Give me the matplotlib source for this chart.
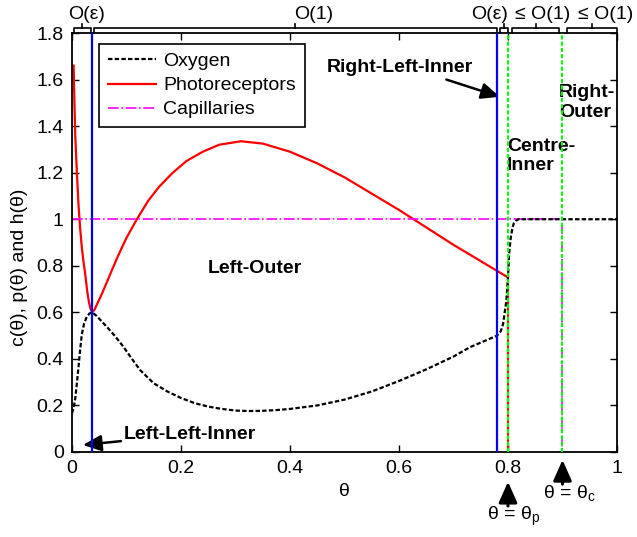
import numpy as np
import matplotlib
matplotlib.use('Agg')
import matplotlib.pyplot as plt
from matplotlib.ticker import FuncFormatter
import matplotlib.transforms as mtransforms

plt.rcParams['font.family'] = ['Liberation Sans', 'DejaVu Sans']
plt.rcParams['font.size'] = 14

# oxygen c(theta)
theta_c = [0, 0.003, 0.006, 0.009, 0.012, 0.015, 0.018, 0.022, 0.027, 0.032, 0.037,
           0.045, 0.055, 0.065, 0.08, 0.095, 0.11, 0.125, 0.15, 0.175, 0.2, 0.225,
           0.25, 0.275, 0.3, 0.325, 0.35, 0.375, 0.4, 0.45, 0.5, 0.55, 0.6, 0.65,
           0.7, 0.73, 0.76, 0.78, 0.787, 0.791, 0.794, 0.797, 0.8, 0.802, 0.805,
           0.808, 0.811, 0.815, 0.82, 0.9, 1.0]
c_vals = [0.166, 0.19, 0.23, 0.295, 0.366, 0.44, 0.505, 0.55, 0.58, 0.595, 0.60,
          0.585, 0.56, 0.535, 0.495, 0.45, 0.40, 0.352, 0.295, 0.26, 0.232, 0.21,
          0.195, 0.185, 0.178, 0.176, 0.177, 0.18, 0.185, 0.2, 0.225, 0.26, 0.305, 0.355,
          0.41, 0.45, 0.48, 0.5, 0.52, 0.55, 0.6, 0.65, 0.75, 0.85, 0.92,
          0.96, 0.985, 0.995, 1.0, 1.0, 1.0]

# photoreceptors p(theta), zero beyond theta_p (lies on the axis)
theta_p = [0.003, 0.0045, 0.006, 0.009, 0.012, 0.015, 0.018, 0.021, 0.024, 0.028,
           0.031, 0.034, 0.037, 0.041, 0.046, 0.055, 0.065, 0.073, 0.085, 0.1,
           0.119, 0.14, 0.16, 0.185, 0.21, 0.24, 0.27, 0.31, 0.35, 0.4, 0.45, 0.5,
           0.55, 0.6, 0.65, 0.7, 0.75, 0.8, 0.8]
p_vals = [1.66, 1.5, 1.36, 1.2, 1.06, 0.96, 0.88, 0.82, 0.77, 0.69,
          0.645, 0.615, 0.60, 0.61, 0.635, 0.68, 0.735, 0.78, 0.845, 0.92,
          1.0, 1.08, 1.14, 1.2, 1.25, 1.29, 1.32, 1.335, 1.325, 1.29, 1.24, 1.18,
          1.11, 1.04, 0.965, 0.89, 0.82, 0.75, 0.0]

# capillaries h(theta)
theta_h = [0, 0.9, 0.9]
h_vals = [1, 1, 0]

region_bounds = [0.037, 0.78]   # blue lines
theta_p_pos = 0.8
theta_c_pos = 0.9

bracket_spans = [(0.003, 0.034), (0.04, 0.78), (0.785, 0.8), (0.808, 0.894), (0.909, 1.0)]
bracket_labels = ['O(ε)', 'O(1)', 'O(ε)', '≤ O(1)', '≤ O(1)']
bracket_label_x = [0.027, 0.444, 0.767, 0.864, 0.979]

fig = plt.figure(figsize=(6.37, 5.37), dpi=100)
ax = fig.add_axes([0.113, 0.1583, 0.8556, 0.7802])

ax.plot(theta_c, c_vals, color='black', lw=1.6, linestyle=(0, (2, 1)), label='Oxygen', zorder=3)
ax.plot(theta_p, p_vals, color='red', lw=1.6, label='Photoreceptors', zorder=2)
ax.plot(theta_h, h_vals, color='magenta', lw=1.2, linestyle='-.', label='Capillaries', zorder=2)

for xb in region_bounds:
    ax.axvline(xb, color='blue', lw=1.6, zorder=4)
for xg in [theta_p_pos, theta_c_pos]:
    ax.axvline(xg, color='#00ff00', lw=1.5, linestyle=(0, (2, 1)), zorder=5)

ax.set_xlim(0, 1)
ax.set_ylim(0, 1.8)
ax.set_xticks(np.arange(0, 1.01, 0.2))
ax.set_yticks(np.arange(0, 1.81, 0.2))
fmt = FuncFormatter(lambda v, pos: '%g' % round(v, 2))
ax.xaxis.set_major_formatter(fmt)
ax.yaxis.set_major_formatter(fmt)
ax.tick_params(direction='in', top=True, right=True, length=5, width=1, labelsize=14, pad=6)
for s in ax.spines.values():
    s.set_linewidth(1.3)

ax.set_xlabel('θ', fontsize=14, labelpad=4)
ax.set_ylabel('c(θ), p(θ) and h(θ)', fontsize=14)
ax.yaxis.set_label_coords(-0.08, 0.44)

leg = ax.legend(loc='upper left', bbox_to_anchor=(0.0495, 0.974), borderaxespad=0,
                fancybox=False, edgecolor='black', framealpha=1, handlelength=2.5,
                handletextpad=0.36, labelspacing=0.33, borderpad=0.45, fontsize=14)
leg.get_frame().set_linewidth(1.2)

# region annotations
bold = dict(fontsize=14, fontweight='bold')
head = '-|>,head_length=0.8,head_width=0.35'
ax.text(0.336, 0.79, 'Left-Outer', ha='center', va='center', **bold)
ax.annotate('Left-Left-Inner', xy=(0.02, 0.03), xytext=(0.095, 0.077),
            ha='left', va='center', **bold,
            arrowprops=dict(arrowstyle=head, color='black', lw=1.8, shrinkA=0, shrinkB=0))
ax.text(0.602, 1.65, 'Right-Left-Inner', ha='center', va='center', **bold)
ax.annotate('', xy=(0.785, 1.526), xytext=(0.687, 1.60),
            arrowprops=dict(arrowstyle=head, color='black', lw=1.8, shrinkA=0, shrinkB=0))
ax.text(0.798, 1.272, 'Centre-\nInner', ha='left', va='center', linespacing=1.2, **bold)
ax.text(0.894, 1.501, 'Right-\nOuter', ha='left', va='center', linespacing=1.2, **bold)

# arrows under the axis
arrow_kw = dict(arrowstyle='-|>,head_length=0.9,head_width=0.4', color='black', lw=2.2,
                shrinkA=0, shrinkB=0)
ax.annotate('', xy=(theta_p_pos, -0.128), xytext=(theta_p_pos, -0.232),
            arrowprops=arrow_kw, annotation_clip=False)
ax.text(0.811, -0.275, 'θ = θ$_\\mathregular{p}$', ha='center', va='center', fontsize=14)
ax.annotate('', xy=(theta_c_pos, -0.034), xytext=(theta_c_pos, -0.138),
            arrowprops=arrow_kw, annotation_clip=False)
ax.text(0.912, -0.178, 'θ = θ$_\\mathregular{c}$', ha='center', va='center', fontsize=14)

# brackets above the axis
trans = mtransforms.blended_transform_factory(ax.transData, ax.transAxes)
for (x0, x1), lab, xt in zip(bracket_spans, bracket_labels, bracket_label_x):
    xm = (x0 + x1) / 2
    ax.plot([x0, x0, x1, x1], [1.0, 1.012, 1.012, 1.0], color='black', lw=1.2,
            transform=trans, clip_on=False)
    ax.plot([xm, xm], [1.012, 1.022], color='black', lw=1.2, transform=trans, clip_on=False)
    ax.text(xt, 1.024, lab, ha='center', va='bottom', fontsize=14, transform=trans)

fig.savefig('out.png', dpi=100)
